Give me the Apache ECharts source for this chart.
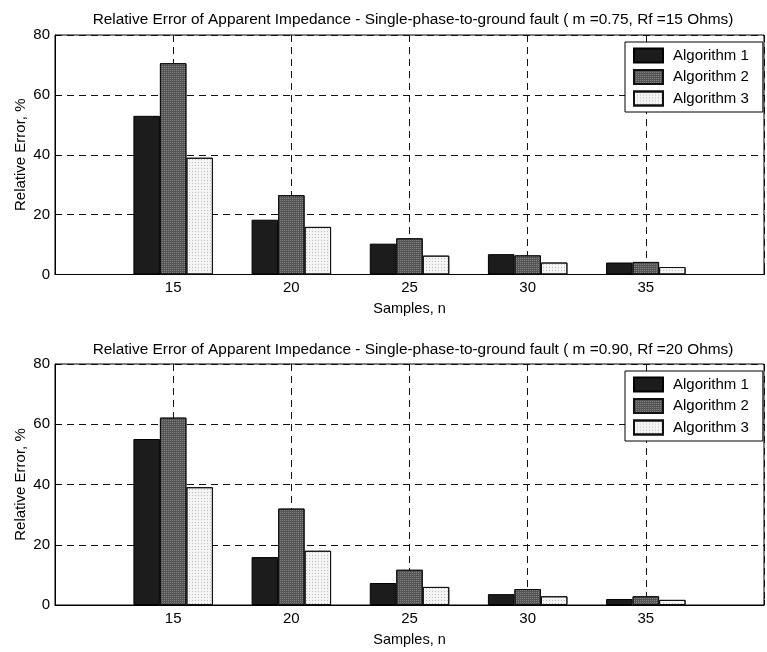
<!DOCTYPE html>
<html>
<head>
<meta charset="utf-8">
<script src="https://cdn.jsdelivr.net/npm/echarts@6/dist/echarts.min.js"></script>
<style>
  html, body { margin: 0; padding: 0; background: #fff; }
  #chart { width: 767px; height: 652px; }
</style>
</head>
<body>
<div id="chart"></div>
<script>
// Number of samples per window (x positions of the bar groups)
const samples = [15, 20, 25, 30, 35];
const yTicks = [0, 20, 40, 60, 80];
const algorithmNames = ['Algorithm 1', 'Algorithm 2', 'Algorithm 3'];

// Relative error (%) — m = 0.75, Rf = 15 Ohms
const errA1 = [53, 18.3, 10.3, 6.8, 4];
const errA2 = [70.6, 26.5, 12.1, 6.4, 4.2];
const errA3 = [39, 15.9, 6.3, 4, 2.5];

// Relative error (%) — m = 0.90, Rf = 20 Ohms
const errB1 = [55.1, 15.9, 7.3, 3.6, 2];
const errB2 = [62.2, 32, 11.7, 5.3, 2.9];
const errB3 = [39.1, 18, 6, 2.9, 1.7];

const titles = [
  'Relative Error of Apparent Impedance - Single-phase-to-ground fault ( m =0.75, Rf =15 Ohms)',
  'Relative Error of Apparent Impedance - Single-phase-to-ground fault ( m =0.90, Rf =20 Ohms)'
];

const FONT = '"Liberation Sans", Arial, Helvetica, sans-serif';

const styles = [
  { color: '#1c1c1c', borderColor: '#000', borderWidth: 1 },
  { color: '#555555', borderColor: '#111', borderWidth: 1,
    decal: { symbol: 'rect', symbolSize: 1, dashArrayX: [1, 1], dashArrayY: [1, 1], color: 'rgba(255,255,255,0.28)' } },
  { color: '#f4f4f4', borderColor: '#111', borderWidth: 1,
    decal: { symbol: 'rect', symbolSize: 1, dashArrayX: [1, 2], dashArrayY: [1, 2], color: 'rgba(0,0,0,0.22)' } }
];

const grids = [
  { left: 55, right: -1, top: 35, height: 239.5, show: true, borderColor: '#000', borderWidth: 1 },
  { left: 55, right: -1, top: 364, height: 241, show: true, borderColor: '#000', borderWidth: 1 }
];

const dashed = { show: true, lineStyle: { color: '#111', type: [7, 5], width: 1 } };

function xAxisFor(i) {
  return {
    type: 'value', gridIndex: i, min: 10, max: 40, interval: 5,
    axisLine: { show: true, lineStyle: { color: '#000', width: 1.2 } },
    axisTick: { show: true, inside: true, length: 5, lineStyle: { color: '#000' } },
    axisLabel: {
      color: '#000', fontFamily: FONT, fontSize: 15, margin: 6,
      formatter: v => (samples.indexOf(v) >= 0 ? String(v) : '')
    },
    splitLine: dashed,
    name: 'Samples, n', nameLocation: 'middle', nameGap: 27,
    nameTextStyle: { color: '#000', fontFamily: FONT, fontSize: 14.5 }
  };
}

function yAxisFor(i) {
  return {
    type: 'value', gridIndex: i, min: yTicks[0], max: yTicks[yTicks.length - 1], interval: 20,
    axisLine: { show: true, lineStyle: { color: '#000', width: 1 } },
    axisTick: { show: true, inside: true, length: 5, lineStyle: { color: '#000' } },
    axisLabel: { color: '#000', fontFamily: FONT, fontSize: 15, margin: 5 },
    splitLine: dashed,
    name: 'Relative Error, %', nameLocation: 'middle', nameGap: 27, nameMoveOverlap: false,
    nameTextStyle: { color: '#000', fontFamily: FONT, fontSize: 15 }
  };
}

function legendFor(top) {
  return {
    orient: 'vertical', left: 625, top: top,
    data: algorithmNames,
    icon: 'rect', itemWidth: 29, itemHeight: 14, itemGap: 5.5,
    padding: [5.5, 14, 5.5, 8],
    backgroundColor: '#fff', borderColor: '#000', borderWidth: 1, borderRadius: 0,
    selectedMode: false,
    textStyle: { color: '#000', fontFamily: FONT, fontSize: 15, lineHeight: 14, padding: [0, 0, 0, 5] }
  };
}

const sets = [[errA1, errA2, errA3], [errB1, errB2, errB3]];
const series = [];
sets.forEach((set, gi) => {
  set.forEach((vals, si) => {
    series.push({
      type: 'bar', name: algorithmNames[si],
      xAxisIndex: gi, yAxisIndex: gi,
      barWidth: 26.5, barGap: '0%',
      itemStyle: styles[si],
      emphasis: { disabled: true },
      data: samples.map((s, k) => [s, vals[k]])
    });
  });
});

const chart = echarts.init(document.getElementById('chart'), null, { renderer: 'canvas' });
chart.setOption({
  animation: false,
  backgroundColor: '#fff',
  title: titles.map((t, i) => ({
    text: t, left: 408, textAlign: 'center', top: i === 0 ? 7 : 337,
    textStyle: { color: '#000', fontFamily: FONT, fontSize: 15.4, fontWeight: 'normal' }
  })),
  legend: [legendFor(42), legendFor(371)],
  grid: grids,
  xAxis: [xAxisFor(0), xAxisFor(1)],
  yAxis: [yAxisFor(0), yAxisFor(1)],
  series: series
});
</script>
</body>
</html>
